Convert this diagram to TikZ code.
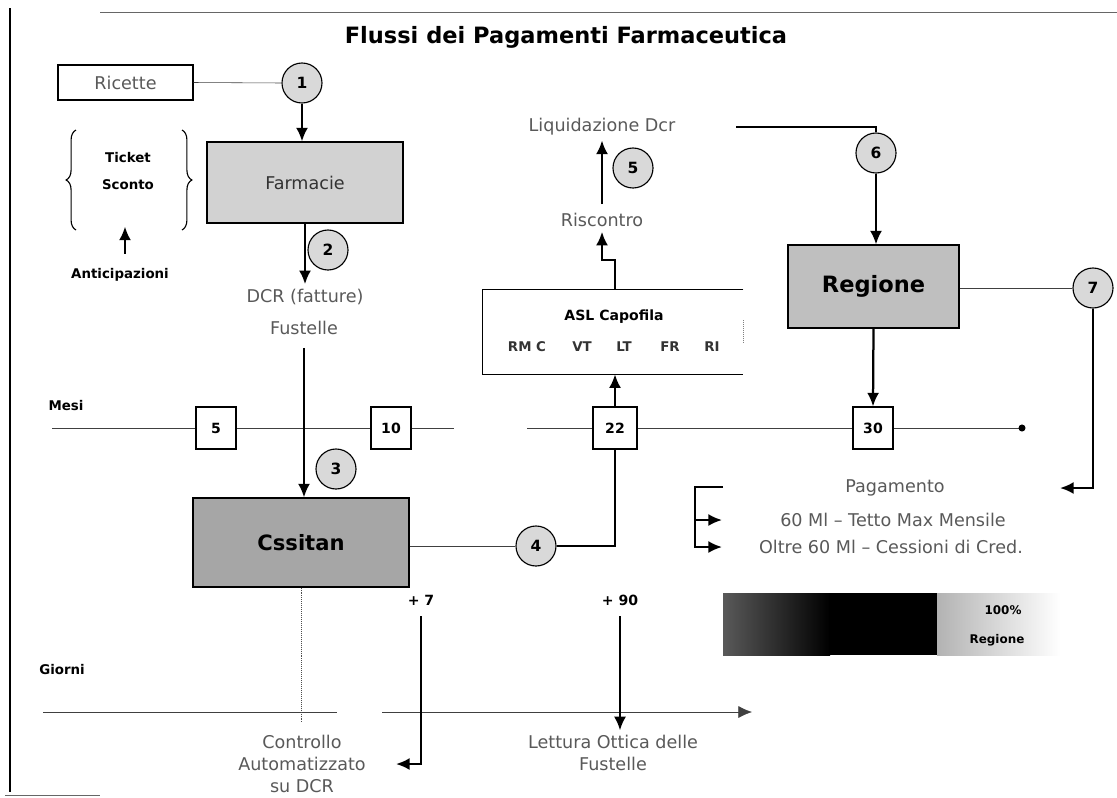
\documentclass[tikz,border=0pt]{standalone}
\usepackage{fontspec}
\setmainfont{DejaVu Sans}
\usetikzlibrary{arrows.meta,decorations.pathreplacing}

\begin{document}
\begin{tikzpicture}[x=0.025cm, y=-0.025cm,
    txt/.style={text=black!65, font=\fontsize{12.5}{15.5}\selectfont},
    lbl/.style={font=\bfseries\fontsize{9.5}{11}\selectfont},
    numero/.style={circle, draw, thick, fill=gray!30, minimum size=1cm, inner sep=0pt, font=\bfseries\fontsize{11}{12}\selectfont},
    mese/.style={draw, thick, fill=white, minimum width=#1, minimum height=1.05cm, inner sep=0pt, font=\bfseries\fontsize{10}{11}\selectfont},
    mese/.default=1cm,
    ente/.style={draw, thick, inner sep=0pt},
    arrow/.style={-{Latex[length=3.4mm, width=3mm]}, line width=1.6pt},
    tratto/.style={thin, black!75}
  ]
  \useasboundingbox (0,0) rectangle (1117,797);

  % cornice
  \draw[line width=1.5pt] (10,8) -- (10,792);
  \draw[black!60] (100,12) -- (1117,12);
  \draw[black!60] (5,795) -- (100,795);

  \node[font=\bfseries\fontsize{16}{19}\selectfont] (titolo) at (566,37) {Flussi dei Pagamenti Farmaceutica};

  % soggetti
  \node[ente, txt, minimum width=3.375cm, minimum height=0.875cm] (ricette) at (125.5,82.5) {Ricette};
  \node[ente, txt, text=black!80, fill=gray!35, minimum width=4.9cm, minimum height=2.025cm] (farmacie) at (305,182.5) {Farmacie};
  \node[ente, fill=gray!70, minimum width=5.4cm, minimum height=2.225cm, font=\bfseries\fontsize{15}{17}\selectfont] (cssitan) at (301,542.5) {Cssitan};
  \node[ente, fill=gray!50, minimum width=4.275cm, minimum height=2.075cm, font=\bfseries\fontsize{16}{18}\selectfont] (regione) at (873.5,286.5) {Regione};
  \node[minimum width=6.5cm, minimum height=2.1cm, inner sep=0pt] (asl) at (613,332) {};
  \draw[thick] (asl.north east) -- (asl.north west) -- (asl.south west) -- (asl.south east);
  \draw[densely dotted, gray] ([yshift=0.3cm]asl.east) -- ([yshift=-0.25cm]asl.east);
  \node[lbl, font=\bfseries\fontsize{10}{12}\selectfont] (capofila) at (614,317) {ASL Capofila};
  \foreach \sigla/\px in {RM C/527, VT/582, LT/624, FR/670, RI/712}
    \node[lbl, text=black!80] (asl\px) at (\px,347) {\sigla};

  % passaggi numerati
  \node[numero] (n1) at (302,83) {1};
  \node[numero] (n2) at (328,250) {2};
  \node[numero] (n3) at (336,469) {3};
  \node[numero] (n4) at (536,546) {4};
  \node[numero] (n5) at (633,168) {5};
  \node[numero] (n6) at (876,153) {6};
  \node[numero] (n7) at (1093,288) {7};

  % testi
  \node[txt] (dcr) at (305,297) {DCR (fatture)};
  \node[txt] (fustelle) at (304,328) {Fustelle};
  \node[txt] (liquid) at (602,127) {Liquidazione Dcr};
  \node[txt] (riscontro) at (602,220) {Riscontro};
  \node[txt] (pagam) at (895,488) {Pagamento};
  \node[txt] (tetto) at (893,520) {60 Ml – Tetto Max Mensile};
  \node[txt] (oltre) at (891,547) {Oltre 60 Ml – Cessioni di Cred.};
  \node[txt, align=center] (controllo) at (302,764) {Controllo\\Automatizzato\\su DCR};
  \node[txt, align=center] (lettura) at (613,753) {Lettura Ottica delle\\Fustelle};

  % ticket e anticipazioni
  \node[lbl, align=center] (ticket) at (128,171) {Ticket\\[8pt]Sconto};
  \draw[thick, decorate, decoration={brace, amplitude=7pt}] (76,230) -- (76,130);
  \draw[thick, decorate, decoration={brace, amplitude=7pt}] (182,130) -- (182,230);
  \node[lbl] (antic) at (120,275) {Anticipazioni};
  \draw[arrow] ([shift={(5,-10)}]antic.north) -- ++(0,-27);

  % mesi
  \node[lbl] (mesi) at (66,406) {Mesi};
  \node[mese] (m5) at (216,428) {5};
  \node[mese] (m10) at (391,428) {10};
  \node[mese=1.1cm] (m22) at (615,428) {22};
  \node[mese] (m30) at (873,428) {30};
  \coordinate (minizio) at (52,428);
  \coordinate (mstacco) at (454,428);
  \coordinate (mripresa) at (527,428);
  \coordinate (mfine) at (1022,428);
  \draw[tratto] (minizio) -- (m5) -- (m10) -- (mstacco);
  \draw[tratto] (mripresa) -- (m22) -- (m30) -- (mfine);
  \fill (mfine) circle (2.5pt);

  % flussi
  \draw[tratto] (ricette.east) -- (n1.west);
  \draw[arrow] (n1.south) -- (n1 |- farmacie.north);
  \draw[arrow] (farmacie.south) -- (farmacie.south |- dcr.north);
  \draw[arrow] ([yshift=-0.2cm]fustelle.south) -- (fustelle.south |- cssitan.north);
  \draw[tratto] (cssitan.east |- n4) -- (n4);
  \draw[very thick] (n4.east) -| (m22.south);
  \draw[arrow] (m22.north) -- (m22.north |- asl.south);
  \draw[arrow] (asl.north -| m22) -- ++(0,-30) -| (riscontro.south);
  \draw[arrow, shorten <=3pt] (riscontro.north) -- (liquid.south);
  \draw[very thick] ([xshift=1.4cm]liquid.east) -| (n6.north);
  \draw[arrow] (n6.south) -- (n6.south |- regione.north);
  \draw[tratto] (regione.east |- n7) -- (n7);
  \coordinate (pfreccia) at (1060,488);
  \draw[arrow] (n7.south) |- (pfreccia);
  \draw[arrow] (regione.south) -- (m30.north);

  % pagamento
  \coordinate (gsu) at (723,487);
  \coordinate (gmezzo) at (722,520);
  \coordinate (gbasso) at (722,547);
  \draw[arrow] (gsu) -- ++(-28,0) |- (gbasso);
  \draw[arrow] ([xshift=-0.7cm]gmezzo) -- (gmezzo);

  % giorni
  \node[lbl] (giorni) at (62,670) {Giorni};
  \coordinate (ginizio) at (43,712);
  \coordinate (gstacco) at (337,712);
  \coordinate (gripresa) at (382,712);
  \coordinate (gfine) at (752,712);
  \draw[tratto] (ginizio) -- (gstacco);
  \draw[tratto, -{Latex[length=3.4mm, width=3mm]}] (gripresa) -- (gfine);
  \draw[densely dotted, black!70] (cssitan.south) -- ++(0,135);
  \node[lbl, font=\bfseries\fontsize{10}{12}\selectfont] (piu7) at (421,600) {+ 7};
  \node[lbl, font=\bfseries\fontsize{10}{12}\selectfont] (piu90) at (620,600) {+ 90};
  \coordinate (c7fine) at (396,764);
  \draw[arrow] ([yshift=-0.15cm]piu7.south) |- (c7fine);
  \draw[arrow] ([yshift=-0.15cm]piu90.south) -- (piu90.south |- lettura.north);

  % quota regione
  \shade[left color=black!65, right color=black] (723,593) rectangle (830,655);
  \fill[black] (829,593) rectangle (937,655);
  \shade[left color=gray!60, right color=white] (937,593) rectangle (1060,655);
  \node[lbl, font=\bfseries\fontsize{8.5}{10}\selectfont] (cento) at (1003,610) {100\%};
  \node[lbl, font=\bfseries\fontsize{8.5}{10}\selectfont] (bregione) at (997,640) {Regione};
\end{tikzpicture}
\end{document}
